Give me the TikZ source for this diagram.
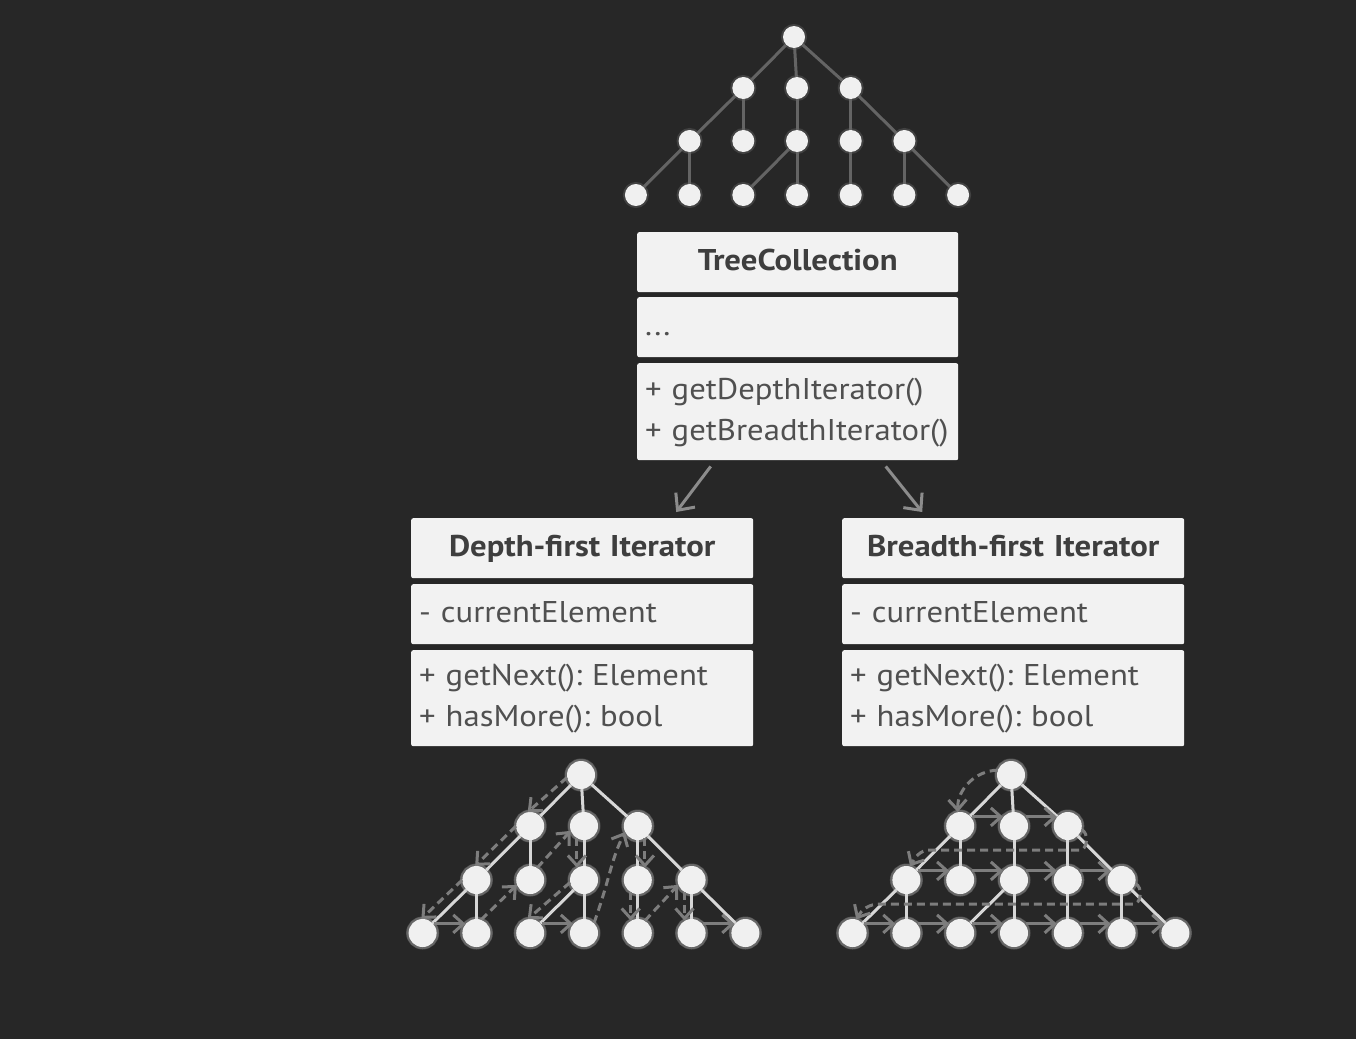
\documentclass[tikz,border=0pt]{standalone}
\usepackage{fontspec}
\setmainfont{PT Sans}[FakeStretch=1.09]
\usetikzlibrary{arrows.meta}
\frenchspacing

\definecolor{bgdark}{RGB}{39,39,39}
\definecolor{boxfill}{RGB}{242,242,242}
\definecolor{boxtext}{RGB}{80,80,80}
\definecolor{headtext}{RGB}{62,62,62}
\definecolor{edgegray}{RGB}{100,100,100}
\definecolor{edgelight}{RGB}{215,215,215}
\definecolor{travgray}{RGB}{125,125,125}
\definecolor{arrowgray}{RGB}{140,140,140}

\tikzset{
	leaf/.style={circle, fill=white!94!black, inner sep=0pt, minimum size=22pt,
		preaction={draw=white, opacity=0.12, line width=4pt}},
	bigleaf/.style={leaf, minimum size=28pt,
		preaction={draw=white, opacity=0.2, line width=5pt}},
	part/.style={rectangle, fill=boxfill, anchor=north west, rounded corners=2pt,
		inner xsep=8pt, inner ysep=0pt, align=left, text=boxtext,
		font=\fontsize{30}{41}\selectfont},
	head/.style={part, align=center, text=headtext, font=\fontsize{30}{41}\selectfont\bfseries},
	assoc/.style={draw=arrowgray, line width=3pt,
		-{Straight Barb[length=13pt, width=24pt]}},
	travel/.style={draw=travgray, line width=3pt, dash pattern=on 8pt off 5pt,
		-{Straight Barb[length=10pt, width=18pt]}},
	hop/.style={draw=travgray, line width=3pt, shorten <=1pt, shorten >=0pt,
		-{Straight Barb[length=10pt, width=18pt]}},
}

\begin{document}
\begin{tikzpicture}[x=1pt, y=-1pt]
	\useasboundingbox[fill=bgdark] (0,0) rectangle (1356,1039);
	%
	% collection tree
	\node[leaf] (t0) at (794,37) {};
	\foreach \n/\k/\lv in {1/-1/51, 2/0/51, 3/1/51, 4/-2/104, 5/-1/104, 6/0/104, 7/1/104, 8/2/104,
		9/-3/158, 10/-2/158, 11/-1/158, 12/0/158, 13/1/158, 14/2/158, 15/3/158}  % index/column/level
	{	\node[leaf] (t\n) at ({797+\k*53.7}, {37+\lv}) {};
	}
	%
	% iterator trees
	\foreach \tr/\cx/\rx in {d/584/581, b/1014/1011}
	{	\node[bigleaf] (\tr0) at (\rx,775) {};
		\foreach \n/\k/\lv in {1/-1/51, 2/0/51, 3/1/51, 4/-2/105, 5/-1/105, 6/0/105, 7/1/105, 8/2/105,
			9/-3/158, 10/-2/158, 11/-1/158, 12/0/158, 13/1/158, 14/2/158, 15/3/158}
		{	\node[bigleaf] (\tr\n) at ({\cx+\k*53.8}, {775+\lv}) {};
		}
	}
	%
	\def\edges {0/1, 0/2, 0/3, 1/4, 1/5, 2/6, 3/7, 3/8, 4/9, 4/10, 6/11, 6/12, 7/13, 8/14, 8/15}  % list elements
	\foreach \u/\v in \edges
	{	\draw[edgegray, line width=3pt] (t\u) -- (t\v);
		\draw[edgelight, line width=3pt] (d\u) -- (d\v);
		\draw[edgelight, line width=3pt] (b\u) -- (b\v);
	}
	%
	% classes
	\node[head, text width=305pt, minimum height=60pt] (tcHead) at (637,232) {\strut TreeCollection};
	\node[part, text width=305pt, minimum height=60pt] (tcAttr) at (637,297) {\strut ...};
	\node[part, text width=305pt, minimum height=97pt] (tcOps) at (637,363)
		{\strut + getDepthIterator()\\\strut + getBreadthIterator()};
	%
	\node[head, text width=326pt, minimum height=60pt] (dfHead) at (411,518) {\strut Depth-first Iterator};
	\node[part, text width=326pt, minimum height=60pt] (dfAttr) at (411,584) {\strut - currentElement};
	\node[part, text width=326pt, minimum height=96pt] (dfOps) at (411,650)
		{\strut + getNext(): Element\\\strut + hasMore(): bool};
	%
	\node[head, text width=326pt, minimum height=60pt] (bfHead) at (842,518) {\strut Breadth-first Iterator};
	\node[part, text width=326pt, minimum height=60pt] (bfAttr) at (842,584) {\strut - currentElement};
	\node[part, text width=326pt, minimum height=96pt] (bfOps) at (842,650)
		{\strut + getNext(): Element\\\strut + hasMore(): bool};
	%
	\draw[assoc] ([xshift=-87pt, yshift=-6pt]tcOps.south) -- ([xshift=94pt, yshift=6pt]dfHead.north);
	\draw[assoc] ([xshift=88pt, yshift=-6pt]tcOps.south) -- ([xshift=-91pt, yshift=6pt]bfHead.north);
	%
	% depth-first walk
	\def\walk {0/190/1/100, 1/180/4/95, 4/180/9/95, 10/70/5/200, 5/60/2/200, 2/240/6/120,
		6/190/11/100, 3/300/7/60, 7/240/13/120, 13/60/8/200, 8/240/14/120}  % from/anchor/to/anchor
	\foreach \u/\a/\v/\b in \walk
	{	\draw[travel] (d\u.\a) -- (d\v.\b);
	}
	\draw[travel] (d12.45) .. controls +(16,-45) and +(-14,28) .. (d3.205);
	\foreach \u/\v in {9/10, 11/12, 14/15}
	{	\draw[hop] (d\u.40) -- (d\v.140);
	}
	%
	% breadth-first walk
	\draw[travel] (b0.160) to[bend right=45] (b1.100);
	\foreach \u/\v in {1/2, 2/3, 4/5, 5/6, 6/7, 7/8, 9/10, 10/11, 11/12, 12/13, 13/14, 14/15}
	{	\draw[hop] (b\u.40) -- (b\v.140);
	}
	\path (b3) ++(12,24) coordinate (bback1) ++(-150,0) coordinate (bback2);
	\path (b8) ++(12,24) coordinate (bback3) ++(-254,0) coordinate (bback4);
	\draw[travel] (b3.-15) to[out=-20, in=0] (bback1) -- (bback2) to[out=180, in=60] (b4.75);
	\draw[travel] (b8.-15) to[out=-20, in=0] (bback3) -- (bback4) to[out=180, in=60] (b9.75);
	%
\end{tikzpicture}
\end{document}
